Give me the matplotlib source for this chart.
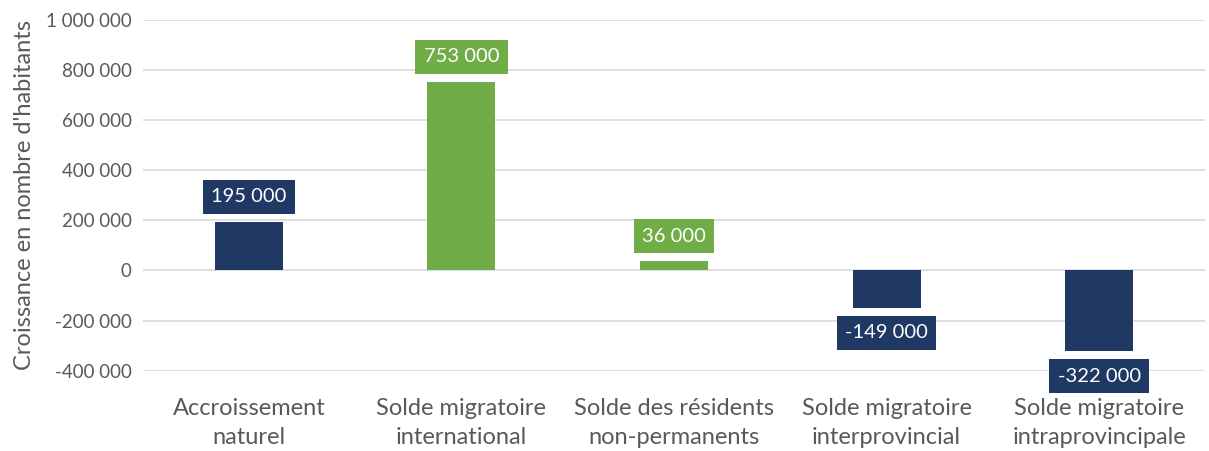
import matplotlib.pyplot as plt
from matplotlib.ticker import FuncFormatter

categories = ['Accroissement\nnaturel', 'Solde migratoire\ninternational',
              'Solde des résidents\nnon-permanents', 'Solde migratoire\ninterprovincial',
              'Solde migratoire\nintraprovincipale']
values = [195000, 753000, 36000, -149000, -322000]
colors = ['#1F3864', '#70AD47', '#70AD47', '#1F3864', '#1F3864']
yticks = [-400000, -200000, 0, 200000, 400000, 600000, 800000, 1000000]

plt.rcParams['font.family'] = ['Lato', 'DejaVu Sans']

fig = plt.figure(figsize=(12.09, 4.51), dpi=100)
ax = fig.add_axes([0.118, 0.178, 0.879, 0.778])

x = range(len(categories))
ax.bar(x, values, width=0.32, color=colors, zorder=3)

for i, v in enumerate(values):
    off = 18 if v >= 0 else -18
    ax.annotate(f'{v:,}'.replace(',', ' '), (i, v), xytext=(0, off),
                textcoords='offset points', ha='center', va='center',
                color='white', fontsize=14.5, zorder=4,
                bbox=dict(boxstyle='square,pad=0.42', fc=colors[i], ec='none'))

ax.set_xlim(-0.5, len(categories) - 0.5)
ax.set_ylim(-400000, 1000000)
ax.set_yticks(yticks)
ax.yaxis.set_major_formatter(FuncFormatter(lambda v, p: f'{int(v):,}'.replace(',', ' ')))
ax.set_xticks(list(x))
ax.set_xticklabels(categories, fontsize=17, color='#595959', linespacing=1.45)
ax.tick_params(axis='y', labelsize=13.5, labelcolor='#595959', length=0, pad=8)
ax.tick_params(axis='x', length=0, pad=20)
ax.grid(axis='y', color='#D9D9D9', linewidth=1.2, zorder=0)
for s in ax.spines.values():
    s.set_visible(False)
ax.set_ylabel("Croissance en nombre d'habitants", fontsize=17, color='#595959', labelpad=8)

fig.savefig('out.png', dpi=100)
